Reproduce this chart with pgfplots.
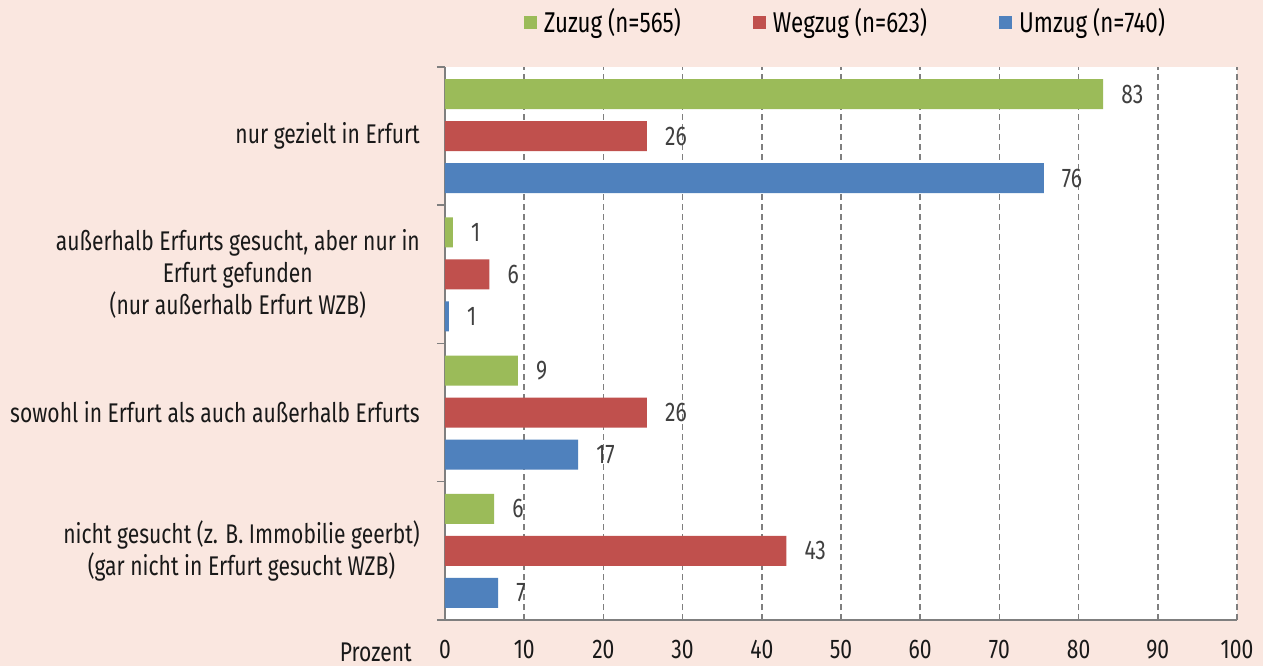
\documentclass[border=0pt]{standalone}
\usepackage{fontspec}
\setmainfont{Fira Sans}[FakeStretch=0.78]
\usepackage{pgfplots}
\pgfplotsset{compat=1.18}
\usepackage{pgfplotstable}
\definecolor{bgpink}{HTML}{FAE7E0}
\definecolor{cgreen}{HTML}{9BBB59}
\definecolor{cred}{HTML}{C0504D}
\definecolor{cblue}{HTML}{4F81BD}
\definecolor{gridgray}{HTML}{7F7F7F}
\definecolor{labgray}{HTML}{404040}

\pgfplotstableread{
y v lab
3 83.1 83
2 1.0 1
1 9.2 9
0 6.2 6
}\zuzug
\pgfplotstableread{
y v lab
3 25.5 26
2 5.6 6
1 25.5 26
0 43.1 43
}\wegzug
\pgfplotstableread{
y v lab
3 75.6 76
2 0.5 1
1 16.8 17
0 6.7 7
}\umzug

\begin{document}
\fontsize{27bp}{32bp}\selectfont
\begin{tikzpicture}
\path[use as bounding box, fill=bgpink] (-445bp,-46bp) rectangle (818bp,620bp);
\begin{axis}[
  at={(0,0)}, anchor=south west,
  scale only axis, width=792bp, height=553bp,
  xbar, bar width=30bp,
  xmin=0, xmax=100, ymin=-0.5, ymax=3.5,
  enlargelimits=false,
  axis background/.style={fill=white},
  axis x line*=bottom, axis y line*=left,
  axis line style={draw=gridgray, line width=1.5bp, -},
  /pgf/number format/assume math mode=true,
  xtick={0,10,...,100},
  xmajorgrids,
  grid style={draw=gridgray, line width=1.5bp, dash pattern=on 6bp off 4bp},
  xtick style={draw=none},
  major tick length=0pt,
  ytick={0,1,2,3},
  yticklabels={{nicht gesucht (z. B. Immobilie geerbt)\\(gar nicht in Erfurt gesucht WZB)},
               {sowohl in Erfurt als auch außerhalb Erfurts},
               {außerhalb Erfurts gesucht, aber nur in\\Erfurt gefunden\\(nur außerhalb Erfurt WZB)},
               {nur gezielt in Erfurt}},
  yticklabel style={align=center, text=black!90, xshift=-16bp},
  xticklabel style={text=black!90, inner sep=2bp, yshift=-18bp},
  extra y ticks={-0.5,0.5,1.5,2.5,3.5},
  extra y tick labels={},
  extra y tick style={major tick length=8bp, tick align=outside,
     ytick style={draw=gridgray, line width=1.5bp}},
  legend style={at={(0.5057,1.081)}, anchor=center, draw=none, fill=none,
     legend columns=3, font=\fontsize{28.6bp}{32bp}\selectfont,
     /tikz/every even column/.append style={column sep=70bp}},
  legend image code/.code={\fill[#1] (0bp,-6.5bp) rectangle (13bp,6.5bp);\path (18bp,0bp);},
  every node near coord/.append style={anchor=west, xshift=9bp, text=labgray},
]
\addplot[fill=cgreen, draw=none, bar shift=42bp, nodes near coords, point meta=explicit symbolic]
  table[x=v, y=y, meta=lab] {\zuzug};
\addplot[fill=cred, draw=none, bar shift=0bp, nodes near coords, point meta=explicit symbolic]
  table[x=v, y=y, meta=lab] {\wegzug};
\addplot[fill=cblue, draw=none, bar shift=-42bp, nodes near coords, point meta=explicit symbolic]
  table[x=v, y=y, meta=lab] {\umzug};
\legend{Zuzug (n=565), Wegzug (n=623), Umzug (n=740)}
\end{axis}
\node[anchor=base east, inner sep=0pt, text=black!90] at (-33bp,-41bp) {Prozent};
\end{tikzpicture}
\end{document}
